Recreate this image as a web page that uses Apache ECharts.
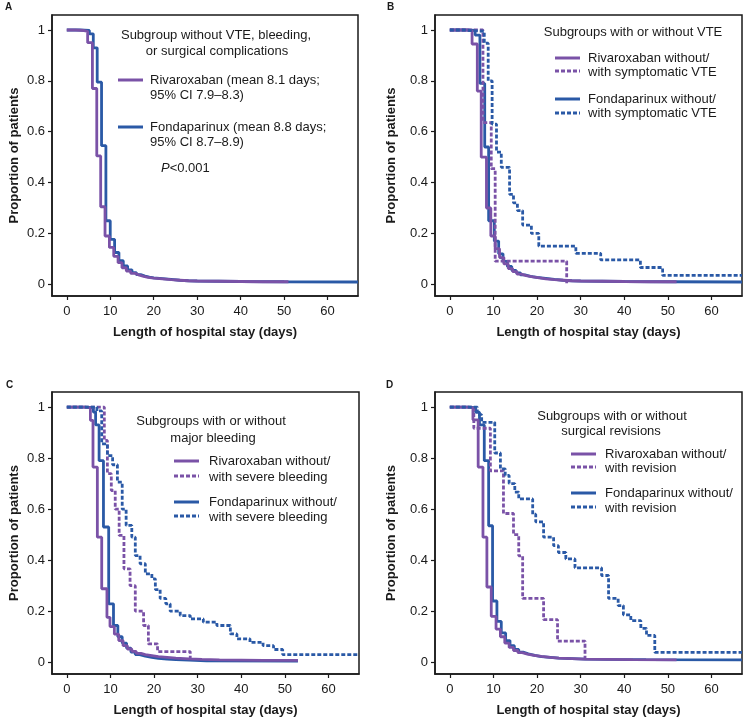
<!DOCTYPE html>
<html>
<head>
<meta charset="utf-8">
<script src="https://cdn.jsdelivr.net/npm/echarts@6/dist/echarts.min.js"></script>
<style>
html,body{margin:0;padding:0;background:#fff;}
#chart{width:744px;height:718px;}
</style>
</head>
<body>
<div id="chart"></div>
<script>
// ---------- data ----------
const xTicks = [0, 10, 20, 30, 40, 50, 60];
const yTicks = [0, 0.2, 0.4, 0.6, 0.8, 1];
const xTitle = 'Length of hospital stay (days)';
const yTitle = 'Proportion of patients';

// Panel A
const aRiva = [[0,1],[2,0.998],[4,0.995],[4.8,0.95],[5.9,0.77],[6.9,0.505],[7.8,0.305],[8.8,0.19],[9.8,0.145],[10.8,0.11],[11.8,0.085],[12.7,0.065],[13.7,0.052],[14.7,0.043],[15.7,0.036],[16.7,0.031],[17.7,0.027],[18.7,0.024],[20,0.021],[22,0.018],[24,0.016],[26,0.014],[28,0.013],[30,0.012],[35,0.011],[40,0.01],[45,0.01],[51,0.009]];
const aFonda = [[0,1],[3,0.998],[5.2,0.985],[6.1,0.93],[7.0,0.795],[8.0,0.545],[9.0,0.25],[10.0,0.177],[11.0,0.125],[12.0,0.093],[13.0,0.072],[14,0.057],[15,0.046],[16,0.038],[17,0.032],[18,0.028],[19,0.025],[20,0.022],[22,0.019],[24,0.016],[26,0.014],[28,0.013],[30,0.012],[35,0.011],[40,0.01],[50,0.009],[67,0.009]];

// Panel B
const bRivaNo = [[0,1],[4,0.997],[5.1,0.945],[6.3,0.76],[7.2,0.5],[8.4,0.3],[9.4,0.19],[10.4,0.14],[11.4,0.105],[12.4,0.08],[13.4,0.062],[14.4,0.05],[15.4,0.04],[16.4,0.034],[17.5,0.029],[19,0.025],[20.5,0.021],[22,0.018],[24,0.016],[26,0.014],[28,0.013],[30,0.012],[35,0.011],[40,0.01],[46,0.01],[52,0.009]];
const bRivaVte = [[0,1],[7.6,0.636],[9.5,0.4545],[10.4,0.0909],[26.8,0.004]];
const bFondaNo = [[0,1],[4,0.998],[5.8,0.98],[6.9,0.79],[8.0,0.54],[8.9,0.25],[10.2,0.17],[11.2,0.12],[12.2,0.09],[13.2,0.07],[14.2,0.055],[15.2,0.045],[16.2,0.037],[17.2,0.031],[18.5,0.027],[20,0.023],[22,0.019],[24,0.016],[26,0.014],[28,0.013],[30,0.012],[35,0.011],[40,0.01],[50,0.009],[67,0.009]];
const bFondaVte = [[0,1],[3,0.995],[7.9,0.948],[8.8,0.8],[9.7,0.63],[10.7,0.52],[11.8,0.46],[13.7,0.354],[14.6,0.32],[15.5,0.29],[16.7,0.233],[18.7,0.2],[20.4,0.15],[28.9,0.122],[34.6,0.096],[43.7,0.066],[48.8,0.035],[67,0.035]];

// Panel C
const cRivaNo = [[0,1],[4,0.997],[5.4,0.948],[6.0,0.765],[7.0,0.49],[8.0,0.288],[9.2,0.176],[9.9,0.14],[10.9,0.11],[11.9,0.085],[12.9,0.065],[13.9,0.052],[14.9,0.043],[15.9,0.035],[17,0.03],[18,0.026],[19.5,0.022],[21,0.019],[23,0.016],[25,0.013],[28,0.011],[31,0.009],[35,0.008],[40,0.007],[45,0.007],[53,0.006]];
const cRivaBleed = [[0,1],[8.6,0.869],[9.3,0.739],[10.2,0.673],[11.1,0.6],[12,0.497],[13.1,0.366],[14.5,0.3],[15.7,0.2],[17.6,0.144],[18.7,0.072],[20.8,0.042],[28.3,0.005]];
const cFondaNo = [[0,1],[4,0.998],[6.1,0.98],[6.6,0.93],[7.4,0.79],[8.4,0.53],[9.6,0.229],[10.7,0.144],[11.7,0.1],[12.7,0.075],[13.7,0.055],[14.7,0.04],[15.7,0.03],[16.7,0.024],[18,0.019],[19.5,0.015],[21,0.012],[23,0.01],[25,0.008],[28,0.006],[32,0.005],[53,0.005]];
const cFondaBleed = [[0,1],[6.9,0.985],[8.0,0.856],[9.3,0.81],[10.5,0.774],[11.6,0.706],[12.7,0.6],[13.6,0.536],[14.9,0.49],[15.7,0.418],[16.8,0.386],[18,0.346],[19.5,0.327],[20.3,0.285],[21.4,0.25],[22.7,0.229],[23.7,0.2],[26,0.183],[28.3,0.17],[31.3,0.157],[34.4,0.144],[37.5,0.111],[39,0.092],[42,0.078],[45,0.065],[47.4,0.05],[49.5,0.03],[67,0.03]];

// Panel D
const dRivaNo = [[0,1],[4,0.997],[5.3,0.95],[6.5,0.765],[7.6,0.49],[8.5,0.295],[9.5,0.18],[10.6,0.13],[11.6,0.1],[12.6,0.075],[13.6,0.058],[14.6,0.046],[15.6,0.038],[16.6,0.032],[17.8,0.027],[19.3,0.023],[21,0.019],[23,0.016],[25,0.014],[28,0.012],[31,0.011],[36,0.01],[42,0.009],[52,0.008]];
const dRivaRev = [[0,1],[5.5,0.917],[9.3,0.75],[12.3,0.583],[14.6,0.5],[15.8,0.417],[16.7,0.25],[21.5,0.167],[24.7,0.083],[31,0.005]];
const dFondaNo = [[0,1],[4,0.998],[5.9,0.98],[6.8,0.93],[7.9,0.79],[8.9,0.535],[9.8,0.24],[10.8,0.16],[11.8,0.115],[12.8,0.085],[13.8,0.065],[14.8,0.05],[15.8,0.04],[16.8,0.033],[18,0.027],[19.5,0.022],[21,0.019],[23,0.016],[25,0.014],[28,0.012],[31,0.011],[36,0.01],[45,0.009],[67,0.008]];
const dFondaRev = [[0,1],[6.3,0.97],[7.3,0.94],[10.3,0.82],[11.6,0.758],[12.7,0.732],[13.6,0.7],[14.9,0.667],[15.8,0.64],[19,0.58],[19.7,0.55],[21.5,0.49],[23.8,0.457],[24.9,0.43],[26.6,0.405],[28.7,0.37],[34.8,0.34],[36.4,0.25],[38.6,0.222],[39.8,0.186],[41.5,0.163],[43.8,0.133],[45.1,0.105],[47,0.039],[67,0.039]];

// ---------- styling ----------
const PURPLE = '#7a52a7';
const BLUE = '#2a59a6';
const INK = '#1a1a1a';
const FONT = '"Liberation Sans", Arial, sans-serif';
const DASH = [4, 2];

const grids = [
  {left: 52, top: 15, width: 306, height: 281},
  {left: 435, top: 15, width: 307, height: 281},
  {left: 52, top: 392, width: 307, height: 282},
  {left: 435, top: 392, width: 307, height: 282}
];

const chart = echarts.init(document.getElementById('chart'), null, {renderer: 'canvas'});

const xAxes = grids.map((g, i) => ({
  gridIndex: i, type: 'value', min: -3.4, max: 67,
  name: xTitle, nameLocation: 'middle', nameGap: 30,
  nameTextStyle: {fontFamily: FONT, fontSize: 13, fontWeight: 'bold', color: INK},
  axisLine: {show: true, onZero: false, lineStyle: {color: INK, width: 1.5}},
  axisTick: {show: true, length: 4, inside: false, lineStyle: {color: INK, width: 1.2}, customValues: xTicks},
  axisLabel: {show: true, margin: 9, fontFamily: FONT, fontSize: 13, color: INK, customValues: xTicks},
  splitLine: {show: false}
}));
const yAxes = grids.map((g, i) => ({
  gridIndex: i, type: 'value', min: -0.046, max: 1.059,
  name: yTitle, nameLocation: 'middle', nameGap: i % 2 === 0 ? 31 : 37,
  nameTextStyle: {fontFamily: FONT, fontSize: 13, fontWeight: 'bold', color: INK},
  axisLine: {show: true, onZero: false, lineStyle: {color: INK, width: 1.5}},
  axisTick: {show: true, length: 4, inside: false, lineStyle: {color: INK, width: 1.2}, customValues: yTicks},
  axisLabel: {show: true, margin: 7, fontFamily: FONT, fontSize: 13, color: INK, customValues: yTicks,
    formatter: v => String(Math.round(v * 10) / 10)},
  splitLine: {show: false}
}));

function km(data, idx, color, dashed, z) {
  return {
    type: 'line', data: data, xAxisIndex: idx, yAxisIndex: idx, step: 'end',
    showSymbol: false, symbol: 'none', silent: true, animation: false, z: z || 2,
    lineStyle: {color: color, width: 2.8, type: dashed ? DASH : 'solid', cap: 'butt'}
  };
}

const series = [
  km(aFonda, 0, BLUE, false, 2), km(aRiva, 0, PURPLE, false, 3),
  km(bFondaNo, 1, BLUE, false, 2), km(bRivaNo, 1, PURPLE, false, 3),
  km(bRivaVte, 1, PURPLE, true, 4), km(bFondaVte, 1, BLUE, true, 5),
  km(cFondaNo, 2, BLUE, false, 2), km(cRivaNo, 2, PURPLE, false, 3),
  km(cRivaBleed, 2, PURPLE, true, 4), km(cFondaBleed, 2, BLUE, true, 5),
  km(dFondaNo, 3, BLUE, false, 2), km(dRivaNo, 3, PURPLE, false, 3),
  km(dRivaRev, 3, PURPLE, true, 4), km(dFondaRev, 3, BLUE, true, 5)
];

// ---------- legends / annotations (graphic) ----------
function txt(x, y, text, opts) {
  opts = opts || {};
  return {type: 'text', silent: true, z: 100, style: {
    x: x, y: y, text: text, fill: INK,
    font: (opts.bold ? 'bold ' : '') + (opts.size || 13) + 'px ' + FONT,
    align: opts.align || 'left', verticalAlign: 'middle', rich: opts.rich
  }};
}
function seg(x, y, color, dashed) {
  return {type: 'line', silent: true, z: 100,
    shape: {x1: x, y1: y, x2: x + 25, y2: y},
    style: {stroke: color, lineWidth: 3, lineDash: dashed ? DASH : null}};
}

const graphics = [
  // panel letters
  txt(5, 7, 'A', {bold: true, size: 10}),
  txt(387, 7, 'B', {bold: true, size: 10}),
  txt(6, 385, 'C', {bold: true, size: 10}),
  txt(386, 385, 'D', {bold: true, size: 10}),

  // Panel A legend
  txt(216, 35, 'Subgroup without VTE, bleeding,', {align: 'center'}),
  txt(217, 51, 'or surgical complications', {align: 'center'}),
  seg(118, 80, PURPLE, false),
  txt(150, 80, 'Rivaroxaban (mean 8.1 days;'),
  txt(150, 95, '95% CI 7.9\u20138.3)'),
  seg(118, 127, BLUE, false),
  txt(150, 127, 'Fondaparinux (mean 8.8 days;'),
  txt(150, 142, '95% CI 8.7\u20138.9)'),
  txt(161, 168, '{i|P}<0.001', {rich: {i: {fontStyle: 'italic', fontFamily: FONT, fontSize: 13, fill: INK}}}),

  // Panel B legend
  txt(633, 32, 'Subgroups with or without VTE', {align: 'center'}),
  seg(555, 58, PURPLE, false), seg(555, 71, PURPLE, true),
  txt(588, 58, 'Rivaroxaban without/'),
  txt(588, 72, 'with symptomatic VTE'),
  seg(555, 99, BLUE, false), seg(555, 113, BLUE, true),
  txt(588, 99, 'Fondaparinux without/'),
  txt(588, 113, 'with symptomatic VTE'),

  // Panel C legend
  txt(211, 421, 'Subgroups with or without', {align: 'center'}),
  txt(213, 438, 'major bleeding', {align: 'center'}),
  seg(174, 461, PURPLE, false), seg(174, 476, PURPLE, true),
  txt(209, 461, 'Rivaroxaban without/'),
  txt(209, 477, 'with severe bleeding'),
  seg(174, 502, BLUE, false), seg(174, 516, BLUE, true),
  txt(209, 502, 'Fondaparinux without/'),
  txt(209, 517, 'with severe bleeding'),

  // Panel D legend
  txt(612, 416, 'Subgroups with or without', {align: 'center'}),
  txt(611, 431, 'surgical revisions', {align: 'center'}),
  seg(571, 454, PURPLE, false), seg(571, 467, PURPLE, true),
  txt(605, 454, 'Rivaroxaban without/'),
  txt(605, 468, 'with revision'),
  seg(571, 493, BLUE, false), seg(571, 507, BLUE, true),
  txt(605, 493, 'Fondaparinux without/'),
  txt(605, 508, 'with revision')
];

chart.setOption({
  backgroundColor: '#ffffff',
  animation: false,
  grid: grids.map(g => Object.assign({show: true, borderColor: INK, borderWidth: 1.5, backgroundColor: 'transparent', containLabel: false}, g)),
  xAxis: xAxes,
  yAxis: yAxes,
  series: series,
  graphic: graphics
});
</script>
</body>
</html>
